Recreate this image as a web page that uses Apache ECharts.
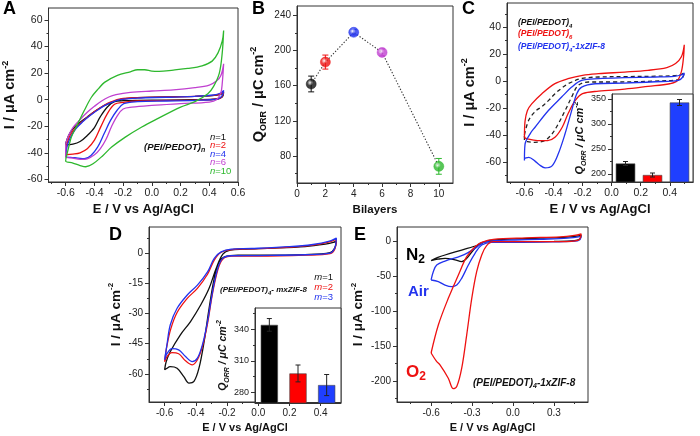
<!DOCTYPE html>
<html><head><meta charset="utf-8">
<script src="https://cdn.jsdelivr.net/npm/echarts@6/dist/echarts.min.js"></script>
<style>html,body{margin:0;padding:0;background:#fff}#c{width:700px;height:436px}</style>
</head><body><div id="c"></div>
<script>
// ---------- DATA ----------
// Panel A: CVs of (PEI/PEDOT)n, [E (V), I (uA cm-2)]
const A_n1 = [[-0.6,-33],[-0.58,-27],[-0.55,-22],[-0.5,-17],[-0.45,-13],[-0.4,-9],[-0.35,-5.5],[-0.3,-3],[-0.25,-1],[-0.2,0.5],[-0.1,1.5],[0.1,2],[0.3,2.5],[0.42,3],[0.48,4],[0.5,5.5],
  [0.49,2],[0.45,0.5],[0.3,0],[0.1,-0.3],[-0.1,-0.5],[-0.2,-0.8],[-0.26,-1.5],[-0.31,-5.5],[-0.36,-13],[-0.4,-21],[-0.45,-27],[-0.5,-31.5],[-0.55,-33.5],[-0.6,-34],[-0.6,-33]];
const A_n2 = [[-0.6,-40],[-0.59,-33],[-0.57,-27],[-0.53,-21],[-0.48,-16],[-0.43,-11.5],[-0.38,-7.5],[-0.33,-4],[-0.28,-1.5],[-0.22,0.5],[-0.1,1.5],[0.1,2],[0.3,2.5],[0.43,3.2],[0.48,4.5],[0.5,6],
  [0.49,2.5],[0.46,0.5],[0.3,-0.3],[0.1,-0.6],[-0.1,-1],[-0.2,-2],[-0.26,-3.5],[-0.31,-10.5],[-0.356,-20.5],[-0.4,-30.5],[-0.45,-37],[-0.5,-40],[-0.55,-41],[-0.6,-41.5],[-0.6,-40]];
const A_n4 = [[-0.6,-42],[-0.59,-35],[-0.57,-29],[-0.53,-22],[-0.48,-16.5],[-0.43,-12],[-0.38,-8],[-0.33,-4.5],[-0.28,-2],[-0.22,0],[-0.1,1.2],[0.1,1.8],[0.3,2.5],[0.43,3.5],[0.48,5],[0.5,7],
  [0.49,3],[0.46,0.5],[0.3,-0.5],[0.1,-1],[-0.1,-1.5],[-0.196,-3],[-0.242,-8],[-0.288,-15.6],[-0.333,-25.7],[-0.378,-35.8],[-0.424,-42],[-0.47,-44.5],[-0.515,-44],[-0.56,-43.5],[-0.6,-43],[-0.6,-42]];
const A_n6 = [[-0.6,-33],[-0.58,-27],[-0.55,-21],[-0.5,-15],[-0.45,-9.5],[-0.4,-5],[-0.35,-1],[-0.3,2],[-0.25,3.8],[-0.15,5.5],[0,6.5],[0.15,7.3],[0.3,9],[0.4,11],[0.45,14],[0.48,18],[0.5,27],
  [0.49,12],[0.48,5],[0.45,0],[0.4,-1.8],[0.2,-3],[0,-4.3],[-0.14,-5.6],[-0.2,-7],[-0.24,-12],[-0.28,-20],[-0.32,-30],[-0.36,-37],[-0.4,-41.5],[-0.45,-44.5],[-0.5,-45],[-0.55,-44],[-0.6,-43],[-0.6,-33]];
const A_n10 = [[-0.6,-45],[-0.58,-36],[-0.56,-28],[-0.52,-19],[-0.47,-8],[-0.42,2],[-0.37,8.5],[-0.33,13],[-0.24,18.3],[-0.15,21],[-0.1,22.5],[-0.05,22.5],[0,21.5],[0.05,21.3],[0.15,22.3],[0.25,23.5],[0.35,25.5],[0.42,29],[0.46,35],[0.49,44],[0.5,52],
  [0.49,35],[0.47,20],[0.43,10],[0.39,4.5],[0.3,-1.5],[0.2,-5.6],[0.04,-14.3],[-0.07,-20.6],[-0.185,-28.2],[-0.28,-35.7],[-0.34,-42],[-0.41,-48.3],[-0.46,-50.5],[-0.5,-49.6],[-0.55,-47.8],[-0.6,-46.3],[-0.6,-45]];

// Panel B: Q_ORR vs bilayers
const B_bilayers = [1, 2, 4, 6, 10];
const B_q = [162, 187, 221, 198, 68];
const B_err = [9, 8, 3, 4, 9];

// Panel C
const C_pp4 = [[-0.6,-40],[-0.57,-29],[-0.52,-22],[-0.48,-19],[-0.43,-14],[-0.39,-9.4],[-0.34,-5],[-0.3,-2],[-0.21,1.8],[-0.09,3],[0.1,3.3],[0.3,3.6],[0.43,4],[0.48,5],[0.5,6.5],
  [0.49,3],[0.46,1],[0.3,0],[0.02,-0.7],[-0.16,-0.7],[-0.23,-3.2],[-0.275,-11.9],[-0.32,-21.9],[-0.367,-31.8],[-0.41,-39.2],[-0.46,-44.2],[-0.53,-45.5],[-0.58,-45],[-0.6,-44],[-0.6,-40]];
const C_pp6 = [[-0.6,-42],[-0.596,-30],[-0.58,-22],[-0.55,-17],[-0.48,-9.4],[-0.39,-1.9],[-0.3,1.8],[-0.2,4.3],[-0.09,5.5],[0.09,6.7],[0.25,8],[0.38,10],[0.44,13],[0.48,18],[0.5,27],
  [0.495,18],[0.48,7],[0.45,0],[0.4,-2],[0.25,-4],[0.09,-6],[-0.09,-7.5],[-0.2,-9.4],[-0.25,-14.4],[-0.3,-24.3],[-0.34,-34.3],[-0.39,-41.8],[-0.44,-44.2],[-0.51,-44.2],[-0.58,-43],[-0.6,-42]];
const C_zif = [[-0.6,-59],[-0.596,-47],[-0.56,-39],[-0.527,-34.3],[-0.435,-21.9],[-0.344,-11.9],[-0.275,-4.5],[-0.206,0.5],[-0.09,1.8],[0.09,2.5],[0.3,3],[0.43,3.5],[0.48,4.5],[0.5,6],
  [0.49,3],[0.46,0.5],[0.3,-0.5],[0.09,-1.5],[-0.114,-2],[-0.206,-4.5],[-0.24,-9.4],[-0.275,-22],[-0.32,-39],[-0.367,-54],[-0.41,-63],[-0.458,-64.5],[-0.5,-62],[-0.527,-59.5],[-0.57,-56.7],[-0.6,-58],[-0.6,-59]];
const Cin_names = ['(PEI/PEDOT)4', '(PEI/PEDOT)6', '(PEI/PEDOT)4-1xZIF-8'];
const Cin_q = [221, 198, 343];
const Cin_err = [4, 4, 6];

// Panel D
const D_m1 = [[-0.6,-58],[-0.59,-54],[-0.564,-49],[-0.5,-40.7],[-0.434,-34],[-0.369,-25.8],[-0.315,-17.5],[-0.27,-7.6],[-0.227,-0.5],[-0.18,1.5],[-0.1,2],[0.1,2.5],[0.3,3.3],[0.43,4.5],[0.48,5.3],[0.5,6],
  [0.49,2.5],[0.46,0.3],[0.3,-0.7],[0,-1],[-0.13,-1],[-0.217,-1.8],[-0.25,-4.3],[-0.282,-12.5],[-0.315,-27.4],[-0.347,-44],[-0.38,-57.2],[-0.412,-63.8],[-0.444,-64.6],[-0.477,-61.4],[-0.52,-57.2],[-0.564,-56.4],[-0.59,-57.5],[-0.6,-58]];
const D_m2 = [[-0.6,-54],[-0.585,-46],[-0.56,-37.5],[-0.52,-29.5],[-0.455,-22.5],[-0.39,-17.5],[-0.325,-10.5],[-0.282,-3.5],[-0.24,0.3],[-0.17,1.8],[0,2.2],[0.2,3],[0.35,4],[0.45,5.5],[0.5,7],
  [0.49,2],[0.46,-0.2],[0.3,-1],[0,-1.5],[-0.17,-1.5],[-0.228,-3],[-0.26,-8.5],[-0.293,-20],[-0.325,-35],[-0.358,-46.5],[-0.39,-53],[-0.423,-55.5],[-0.466,-53.5],[-0.51,-50],[-0.553,-49.5],[-0.585,-51.5],[-0.6,-54]];
const D_m3 = [[-0.6,-53],[-0.585,-45.6],[-0.564,-35.7],[-0.52,-27.4],[-0.455,-20.8],[-0.39,-15.9],[-0.325,-9.3],[-0.282,-2.6],[-0.238,0.6],[-0.173,2],[-0.043,2.3],[0.2,3.2],[0.35,4.3],[0.45,5.8],[0.5,7.5],
  [0.49,2.5],[0.46,0],[0.3,-0.8],[0,-1.2],[-0.173,-1.3],[-0.228,-2.6],[-0.26,-7.6],[-0.293,-19.2],[-0.325,-34],[-0.358,-45.6],[-0.39,-52.2],[-0.423,-53.9],[-0.466,-51.4],[-0.51,-48.1],[-0.553,-47.5],[-0.585,-50],[-0.6,-53]];
const Din_names = ['m=1', 'm=2', 'm=3'];
const Din_q = [344, 298, 287];
const Din_err = [6, 8, 10];

// Panel E
const E_n2 = [[-0.6,-28],[-0.55,-23.5],[-0.498,-20],[-0.376,-12.9],[-0.254,-5.7],[-0.193,0],[-0.132,1.4],[0.015,2.9],[0.2,4],[0.4,5.5],[0.5,8],
  [0.49,3],[0.45,0.5],[0.3,-0.5],[0.015,-1],[-0.181,-1],[-0.242,-3.3],[-0.29,-12.9],[-0.339,-24.8],[-0.376,-29.5],[-0.425,-27],[-0.498,-24.8],[-0.55,-26],[-0.6,-28]];
const E_air = [[-0.6,-55.7],[-0.584,-43.8],[-0.559,-34.3],[-0.498,-28.6],[-0.376,-21],[-0.278,-10.5],[-0.217,-1.9],[-0.132,0.5],[0.015,1.4],[0.2,2.5],[0.4,4],[0.5,6.5],
  [0.49,2],[0.45,-0.3],[0.3,-1.2],[0.015,-1.9],[-0.156,-1.9],[-0.229,-5.7],[-0.278,-17.6],[-0.327,-34.3],[-0.376,-53.3],[-0.412,-62.9],[-0.449,-65.2],[-0.498,-62.9],[-0.547,-58],[-0.6,-55.7]];
const E_o2 = [[-0.6,-160],[-0.547,-120],[-0.474,-81.9],[-0.4,-48.6],[-0.339,-22.4],[-0.278,-8.1],[-0.229,-1.9],[-0.144,2.4],[0.1,4.5],[0.345,6],[0.45,8],[0.5,10],
  [0.48,1.4],[0.345,-1],[0,-1],[-0.146,-1],[-0.193,-6.7],[-0.229,-20],[-0.266,-43.8],[-0.302,-82],[-0.339,-134],[-0.376,-182],[-0.412,-208],[-0.437,-211],[-0.474,-196],[-0.535,-177],[-0.56,-172],[-0.6,-160]];

// Tick values
const A_xTicks = [-0.6,-0.4,-0.2,0,0.2,0.4,0.6], A_xMinor = [-0.7,-0.5,-0.3,-0.1,0.1,0.3,0.5];
const A_yTicks = [-60,-40,-20,0,20,40,60], A_yMinor = [-50,-30,-10,10,30,50];
const B_xTicks = [0,2,4,6,8,10], B_xMinor = [1,3,5,7,9];
const B_yTicks = [80,120,160,200,240], B_yMinor = [60,100,140,180,220];
const C_xTicks = [-0.6,-0.4,-0.2,0,0.2,0.4], C_xMinor = [-0.7,-0.5,-0.3,-0.1,0.1,0.3,0.5];
const C_yTicks = [-60,-40,-20,0,20,40], C_yMinor = [-70,-50,-30,-10,10,30,50];
const Cin_yTicks = [200,250,300,350], Cin_yMinor = [225,275,325];
const D_xTicks = [-0.6,-0.4,-0.2,0,0.2,0.4], D_xMinor = [-0.5,-0.3,-0.1,0.1,0.3,0.5];
const D_yTicks = [-60,-45,-30,-15,0], D_yMinor = [-67.5,-52.5,-37.5,-22.5,-7.5,7.5];
const Din_yTicks = [280,310,340], Din_yMinor = [295,325,355];
const E_xTicks = [-0.6,-0.3,0,0.3], E_xMinor = [-0.75,-0.45,-0.15,0.15,0.45];
const E_yTicks = [-200,-150,-100,-50,0], E_yMinor = [-225,-175,-125,-75,-25];

// ---------- STYLE ----------
const FONT = '"Liberation Sans", Arial, Helvetica, sans-serif';
const K = '#111', RED = '#ee1111', BLUE = '#2233ee', MAG = '#c040d0', GRN = '#2eb82e';
const AX = '#333';

function titleStyle(size, italic) {
  const base = {fontFamily: FONT, fontWeight: 'bold', fontStyle: italic ? 'italic' : 'normal', color: '#111'};
  return Object.assign({}, base, {fontSize: size, lineHeight: size + 4, rich: {
    sup: Object.assign({}, base, {fontSize: Math.round(size * 0.62), verticalAlign: 'top', lineHeight: size + 4}),
    sub: Object.assign({}, base, {fontSize: Math.round(size * 0.62), verticalAlign: 'bottom', lineHeight: size + 4})
  }});
}
const fmt1 = v => (Math.abs(v) < 1e-9 ? 0 : v).toFixed(1);
const fmt0 = v => String(Math.round(v));

function mainAxis(dim, gi, min, max, ticks, fmt, name, gap, tsize, lsize, italic) {
  return {
    type: 'value', gridIndex: gi, min, max, position: dim === 'x' ? 'bottom' : 'left',
    axisLine: {show: true, onZero: false, lineStyle: {color: AX, width: 1}},
    axisTick: {show: true, customValues: ticks, length: 4, lineStyle: {color: AX, width: 1}},
    axisLabel: {show: true, customValues: ticks, formatter: fmt, fontFamily: FONT, fontSize: lsize, color: '#222', margin: 6},
    splitLine: {show: false},
    name, nameLocation: 'middle', nameGap: gap, nameTextStyle: titleStyle(tsize, italic)
  };
}
function minorAxis(dim, gi, min, max, ticks) {
  return {
    type: 'value', gridIndex: gi, min, max, position: dim === 'x' ? 'bottom' : 'left',
    axisLine: {show: false, onZero: false}, axisLabel: {show: false}, splitLine: {show: false},
    axisTick: {show: true, customValues: ticks, length: 2, lineStyle: {color: AX, width: 1}}
  };
}
function catAxis(gi, cats) {
  return {type: 'category', gridIndex: gi, data: cats, position: 'bottom',
    axisLine: {show: true, onZero: false, lineStyle: {color: AX}}, axisTick: {show: false}, axisLabel: {show: false}};
}
function frame(left, top, width, height, bg) {
  return {left, top, width, height, show: true, borderColor: AX, borderWidth: 1, backgroundColor: bg || 'transparent', containLabel: false};
}

const grids = [
  frame(48, 8, 190, 174),      // 0 A
  frame(297, 6, 156, 177),     // 1 B
  frame(507, 3, 186, 179),     // 2 C
  frame(612, 94, 81, 88, '#fff'), // 3 C inset
  frame(149, 227, 192, 176),   // 4 D
  frame(255, 308, 86, 95, '#fff'), // 5 D inset
  frame(397, 227, 191, 175)    // 6 E
];
const XR = {A: [-0.72, 0.6], B: [0, 11], C: [-0.72, 0.56], D: [-0.7, 0.53], E: [-0.85, 0.55]};
const YR = {A: [-62, 69], B: [49, 251], C: [-75, 58], Cin: [184, 360], D: [-74, 13], Din: [270, 360], E: [-230, 20]};

const Q_NAME = 'Q{sub|ORR} / μC cm{sup|-2}';
const I_NAME = 'I / μA cm{sup|-2}';
const E_NAME = 'E / V vs Ag/AgCl';

const xAxis = [
  mainAxis('x', 0, XR.A[0], XR.A[1], A_xTicks, fmt1, E_NAME, 19, 13, 10.5),
  mainAxis('x', 1, XR.B[0], XR.B[1], B_xTicks, fmt0, 'Bilayers', 19, 11.5, 10),
  mainAxis('x', 2, XR.C[0], XR.C[1], C_xTicks, fmt1, E_NAME, 19, 13, 10.5),
  catAxis(3, Cin_names),
  mainAxis('x', 4, XR.D[0], XR.D[1], D_xTicks, fmt1, E_NAME, 18, 11, 10),
  catAxis(5, Din_names),
  mainAxis('x', 6, XR.E[0], XR.E[1], E_xTicks, fmt1, E_NAME, 18, 11, 10),
  minorAxis('x', 0, XR.A[0], XR.A[1], A_xMinor),
  minorAxis('x', 1, XR.B[0], XR.B[1], B_xMinor),
  minorAxis('x', 2, XR.C[0], XR.C[1], C_xMinor),
  minorAxis('x', 4, XR.D[0], XR.D[1], D_xMinor),
  minorAxis('x', 6, XR.E[0], XR.E[1], E_xMinor)
];
const yAxis = [
  mainAxis('y', 0, YR.A[0], YR.A[1], A_yTicks, fmt0, I_NAME, 29, 14.5, 10.5),
  mainAxis('y', 1, YR.B[0], YR.B[1], B_yTicks, fmt0, Q_NAME, 29, 14.5, 10),
  mainAxis('y', 2, YR.C[0], YR.C[1], C_yTicks, fmt0, I_NAME, 28, 14.5, 10.5),
  mainAxis('y', 3, YR.Cin[0], YR.Cin[1], Cin_yTicks, fmt0, Q_NAME, 18, 11, 9, true),
  mainAxis('y', 4, YR.D[0], YR.D[1], D_yTicks, fmt0, I_NAME, 24, 13.5, 10),
  mainAxis('y', 5, YR.Din[0], YR.Din[1], Din_yTicks, fmt0, Q_NAME, 18, 10.5, 9, true),
  mainAxis('y', 6, YR.E[0], YR.E[1], E_yTicks, fmt0, I_NAME, 30, 13.5, 10),
  minorAxis('y', 0, YR.A[0], YR.A[1], A_yMinor),
  minorAxis('y', 1, YR.B[0], YR.B[1], B_yMinor),
  minorAxis('y', 2, YR.C[0], YR.C[1], C_yMinor),
  minorAxis('y', 3, YR.Cin[0], YR.Cin[1], Cin_yMinor),
  minorAxis('y', 4, YR.D[0], YR.D[1], D_yMinor),
  minorAxis('y', 5, YR.Din[0], YR.Din[1], Din_yMinor),
  minorAxis('y', 6, YR.E[0], YR.E[1], E_yMinor)
];

function cv(name, data, gi, color, dashed) {
  return {type: 'line', name, xAxisIndex: gi, yAxisIndex: gi, data, symbol: 'none', showSymbol: false,
    smooth: 0.35, silent: true, z: 3, clip: true,
    lineStyle: {color, width: 1.3, type: dashed ? [4, 3] : 'solid'}};
}
function errRender(colors, capW) {
  return function (params, api) {
    const x = api.value(0), y = api.value(1), e = api.value(2);
    const p1 = api.coord([x, y - e]), p2 = api.coord([x, y + e]);
    const style = {stroke: colors[params.dataIndex % colors.length], lineWidth: 1};
    return {type: 'group', children: [
      {type: 'line', shape: {x1: p1[0], y1: p1[1], x2: p2[0], y2: p2[1]}, style},
      {type: 'line', shape: {x1: p1[0] - capW, y1: p1[1], x2: p1[0] + capW, y2: p1[1]}, style},
      {type: 'line', shape: {x1: p2[0] - capW, y1: p2[1], x2: p2[0] + capW, y2: p2[1]}, style}
    ]};
  };
}
function sphere(c) {
  return new echarts.graphic.RadialGradient(0.4, 0.38, 0.62, [
    {offset: 0, color: '#ffffff'}, {offset: 0.45, color: c}, {offset: 1, color: c}]);
}
const B_colors = [K, RED, BLUE, MAG, GRN];
const barColorsC = ['#000000', '#ff0000', '#1f3fff'];

const series = [
  cv('n=1', A_n1, 0, K), cv('n=2', A_n2, 0, RED), cv('n=4', A_n4, 0, BLUE), cv('n=6', A_n6, 0, MAG), cv('n=10', A_n10, 0, GRN),
  {type: 'line', xAxisIndex: 1, yAxisIndex: 1, data: B_bilayers.map((b, i) => [b, B_q[i]]), symbol: 'none', silent: true, z: 2,
    lineStyle: {color: '#333', width: 1.1, type: [1.3, 1.8]}},
  {type: 'custom', xAxisIndex: 1, yAxisIndex: 1, z: 3, silent: true, renderItem: errRender(B_colors, 3),
    data: B_bilayers.map((b, i) => [b, B_q[i], B_err[i]]), encode: {x: 0, y: 1}},
  {type: 'scatter', xAxisIndex: 1, yAxisIndex: 1, z: 4, silent: true, symbolSize: 10,
    data: B_bilayers.map((b, i) => ({value: [b, B_q[i]], itemStyle: {color: sphere(B_colors[i]), borderColor: B_colors[i], borderWidth: 0.6}}))},
  cv('(PEI/PEDOT)4', C_pp4, 2, '#222', true), cv('(PEI/PEDOT)6', C_pp6, 2, RED), cv('(PEI/PEDOT)4-1xZIF-8', C_zif, 2, BLUE),
  {type: 'bar', xAxisIndex: 3, yAxisIndex: 3, barWidth: '72%', z: 5, silent: true,
    data: Cin_q.map((v, i) => ({value: v, itemStyle: {color: barColorsC[i], borderColor: '#444', borderWidth: 0.6}}))},
  {type: 'custom', xAxisIndex: 3, yAxisIndex: 3, z: 6, silent: true, renderItem: errRender(['#222'], 2.5),
    data: Cin_q.map((v, i) => [i, v, Cin_err[i]]), encode: {x: 0, y: 1}},
  cv('m=1', D_m1, 4, K), cv('m=2', D_m2, 4, RED), cv('m=3', D_m3, 4, BLUE),
  {type: 'bar', xAxisIndex: 5, yAxisIndex: 5, barWidth: '60%', z: 5, silent: true,
    data: Din_q.map((v, i) => ({value: v, itemStyle: {color: barColorsC[i], borderColor: '#444', borderWidth: 0.6}}))},
  {type: 'custom', xAxisIndex: 5, yAxisIndex: 5, z: 6, silent: true, renderItem: errRender(['#222'], 2.5),
    data: Din_q.map((v, i) => [i, v, Din_err[i]]), encode: {x: 0, y: 1}},
  cv('N2', E_n2, 6, K), cv('Air', E_air, 6, BLUE), cv('O2', E_o2, 6, RED)
];

function T(x, y, text, size, color, opt) {
  opt = opt || {};
  const base = {fontFamily: FONT, fontWeight: opt.weight || 'bold', fontStyle: opt.italic ? 'italic' : 'normal', fill: color};
  return {type: 'text', x, y, z: 100, silent: true, style: Object.assign({}, base, {
    text, fontSize: size, align: opt.align || 'left', verticalAlign: opt.va || 'middle',
    rich: {
      s: Object.assign({}, base, {fontSize: Math.round(size * 0.7), verticalAlign: 'bottom', lineHeight: size + 4}),
      n: Object.assign({}, base, {fontSize: size, fontWeight: 'normal', fontStyle: 'normal', lineHeight: size + 4}),
      i: Object.assign({}, base, {fontSize: size, fontWeight: 'normal', fontStyle: 'italic', lineHeight: size + 4})
    }})};
}
const graphic = [
  T(3, 0, 'A', 18, '#000', {va: 'top'}), T(252, 0, 'B', 18, '#000', {va: 'top'}), T(462, 0, 'C', 18, '#000', {va: 'top'}),
  T(109, 226, 'D', 18, '#000', {va: 'top'}), T(354, 226, 'E', 18, '#000', {va: 'top'}),
  T(144, 147, '(PEI/PEDOT){s|n}', 9.5, '#111', {italic: true}),
  T(210, 137, '{i|n}{n|=1}', 9.5, K), T(210, 145.5, '{i|n}{n|=2}', 9.5, RED), T(210, 154, '{i|n}{n|=4}', 9.5, BLUE),
  T(210, 162.5, '{i|n}{n|=6}', 9.5, MAG), T(210, 171, '{i|n}{n|=10}', 9.5, GRN),
  T(518, 23, '(PEI/PEDOT){s|4}', 8.5, '#111', {italic: true}),
  T(518, 34, '(PEI/PEDOT){s|6}', 8.5, RED, {italic: true}),
  T(518, 47, '(PEI/PEDOT){s|4}-1xZIF-8', 8.5, BLUE, {italic: true}),
  T(333, 277, '{i|m}{n|=1}', 9.5, K, {align: 'right'}), T(333, 287, '{i|m}{n|=2}', 9.5, RED, {align: 'right'}),
  T(333, 297, '{i|m}{n|=3}', 9.5, BLUE, {align: 'right'}),
  T(220, 290, '(PEI/PEDOT){s|4}- mxZIF-8', 8, '#111', {italic: true}),
  T(406, 255, 'N{s|2}', 17, '#000'), T(408, 292, 'Air', 15, BLUE), T(406, 372, 'O{s|2}', 17, RED),
  T(473, 383, '(PEI/PEDOT){s|4}-1xZIF-8', 10, '#111', {italic: true})
];

const chart = echarts.init(document.getElementById('c'), null, {renderer: 'canvas'});
chart.setOption({animation: false, backgroundColor: '#fff', grid: grids, xAxis, yAxis, series, graphic});
</script></body></html>
